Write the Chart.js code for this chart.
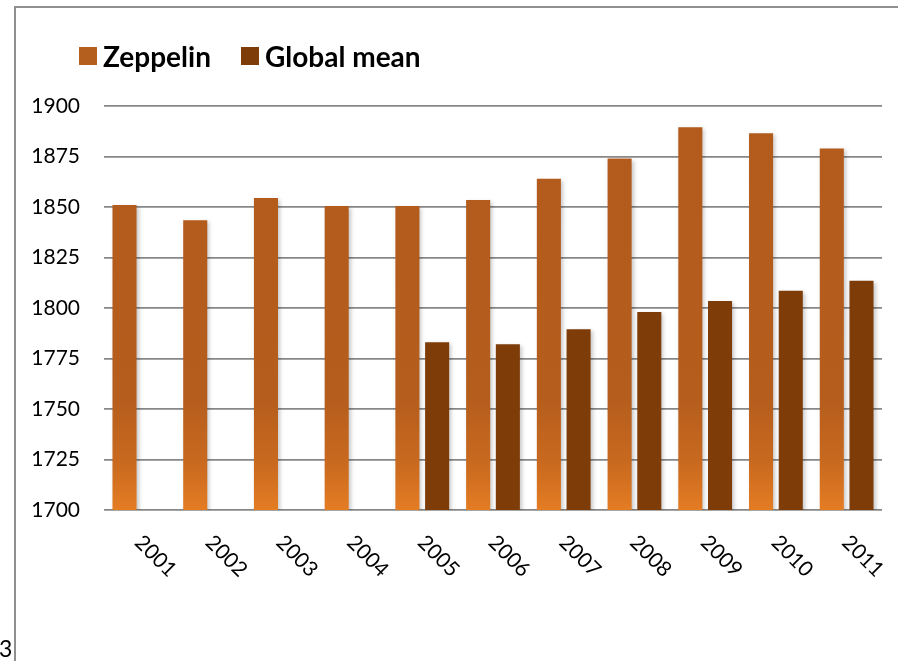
<!DOCTYPE html>
<html>
<head>
<meta charset="utf-8">
<script src="https://cdn.jsdelivr.net/npm/chart.js@4.4.1/dist/chart.umd.min.js"></script>
<style>
  html, body { margin: 0; padding: 0; background: #fff; }
  #wrap { position: relative; width: 898px; height: 661px; overflow: hidden; }
  #c { position: absolute; left: 0; top: 0; }
  .bline { position: absolute; background: #8f8f8f; }
  #legend { position: absolute; left: 79px; top: 38px; font: bold 28px Lato, sans-serif; color: #000; white-space: nowrap; }
  .item { position: absolute; top: 0; height: 36px; line-height: 36px; }
  .sw { position: absolute; top: 9px; width: 18px; height: 18px; }
  #pg { position: absolute; left: -1px; top: 634px; font: 23px Lato, sans-serif; color: #000; }
</style>
</head>
<body>
<div id="wrap">
  <canvas id="c" width="898" height="661"></canvas>
  <div class="bline" style="left:14px;top:6px;width:884px;height:2px;"></div>
  <div class="bline" style="left:14px;top:6px;width:2px;height:655px;"></div>
  <div id="legend"></div>
  <div id="pg">3</div>
</div>
<script>
const years = ['2001','2002','2003','2004','2005','2006','2007','2008','2009','2010','2011'];
const zeppelin = [1851, 1843.5, 1854.5, 1850.5, 1850.5, 1853.5, 1864, 1874, 1889.5, 1886.5, 1879];
const globalMean = [null, null, null, null, 1783, 1782, 1789.5, 1798, 1803.5, 1808.5, 1813.5];
const seriesNames = ['Zeppelin', 'Global mean'];
const yMin = 1700, yMax = 1900, yStep = 25;

const zepSolid = '#B45D1D';
const globColor = '#7E3C08';

// HTML legend
const legend = document.getElementById('legend');
const legendDefs = [
  {name: seriesNames[0], color: '#B45F1E', x: 0},
  {name: seriesNames[1], color: globColor, x: 162}
];
legendDefs.forEach(d => {
  const it = document.createElement('div');
  it.className = 'item';
  it.style.left = d.x + 'px';
  const sw = document.createElement('span');
  sw.className = 'sw';
  sw.style.left = '0px';
  sw.style.background = d.color;
  const tx = document.createElement('span');
  tx.style.position = 'absolute';
  tx.style.left = '24px';
  tx.textContent = d.name;
  it.appendChild(sw); it.appendChild(tx);
  legend.appendChild(it);
});

function zepGradient(context) {
  const chart = context.chart;
  const area = chart.chartArea;
  if (!area) return zepSolid;
  const g = chart.ctx.createLinearGradient(0, area.top, 0, area.bottom);
  g.addColorStop(0, '#B35B1C');
  g.addColorStop(0.72, '#B55D1D');
  g.addColorStop(0.88, '#C8691F');
  g.addColorStop(1, '#E47C23');
  return g;
}

const shadowPlugin = {
  id: 'barShadow',
  beforeDatasetsDraw(chart) {
    const ctx = chart.ctx;
    ctx.save();
    ctx.shadowColor = 'rgba(0,0,0,0.22)';
    ctx.shadowBlur = 4;
    ctx.shadowOffsetX = 2;
    ctx.shadowOffsetY = 2;
  },
  afterDatasetsDraw(chart) {
    chart.ctx.restore();
  }
};

const xLabelPlugin = {
  id: 'xLabels',
  afterDraw(chart) {
    const xs = chart.scales.x;
    const ctx = chart.ctx;
    const y0 = chart.chartArea.bottom + 29;
    ctx.save();
    ctx.font = '21px Lato, sans-serif';
    ctx.fillStyle = '#000';
    ctx.textAlign = 'left';
    ctx.textBaseline = 'middle';
    years.forEach((lab, i) => {
      const x = xs.getPixelForTick(i);
      ctx.save();
      ctx.translate(x - 1, y0);
      ctx.rotate(Math.PI / 4);
      ctx.fillText(lab, 0, 0);
      ctx.restore();
    });
    ctx.restore();
  }
};

new Chart(document.getElementById('c'), {
  type: 'bar',
  data: {
    labels: years,
    datasets: [
      { label: seriesNames[0], data: zeppelin, backgroundColor: zepGradient, borderWidth: 0 },
      { label: seriesNames[1], data: globalMean, backgroundColor: globColor, borderWidth: 0 }
    ]
  },
  options: {
    responsive: false,
    animation: false,
    devicePixelRatio: 1,
    layout: { padding: { left: 0, right: 16, top: 106, bottom: 151 } },
    datasets: { bar: { categoryPercentage: 0.84, barPercentage: 0.81 } },
    plugins: {
      legend: { display: false },
      tooltip: { enabled: false }
    },
    scales: {
      x: {
        grid: { display: false, drawTicks: false },
        border: { display: false },
        ticks: { display: false }
      },
      y: {
        min: yMin, max: yMax,
        afterFit(scale) { scale.width = 104; },
        border: { display: false },
        grid: { color: '#878787', lineWidth: 1.7, drawTicks: false },
        ticks: {
          stepSize: yStep,
          padding: 24,
          color: '#000',
          font: { family: 'Lato, sans-serif', size: 21 },
          callback: (v) => String(v)
        }
      }
    }
  },
  plugins: [shadowPlugin, xLabelPlugin]
});
</script>
</body>
</html>
